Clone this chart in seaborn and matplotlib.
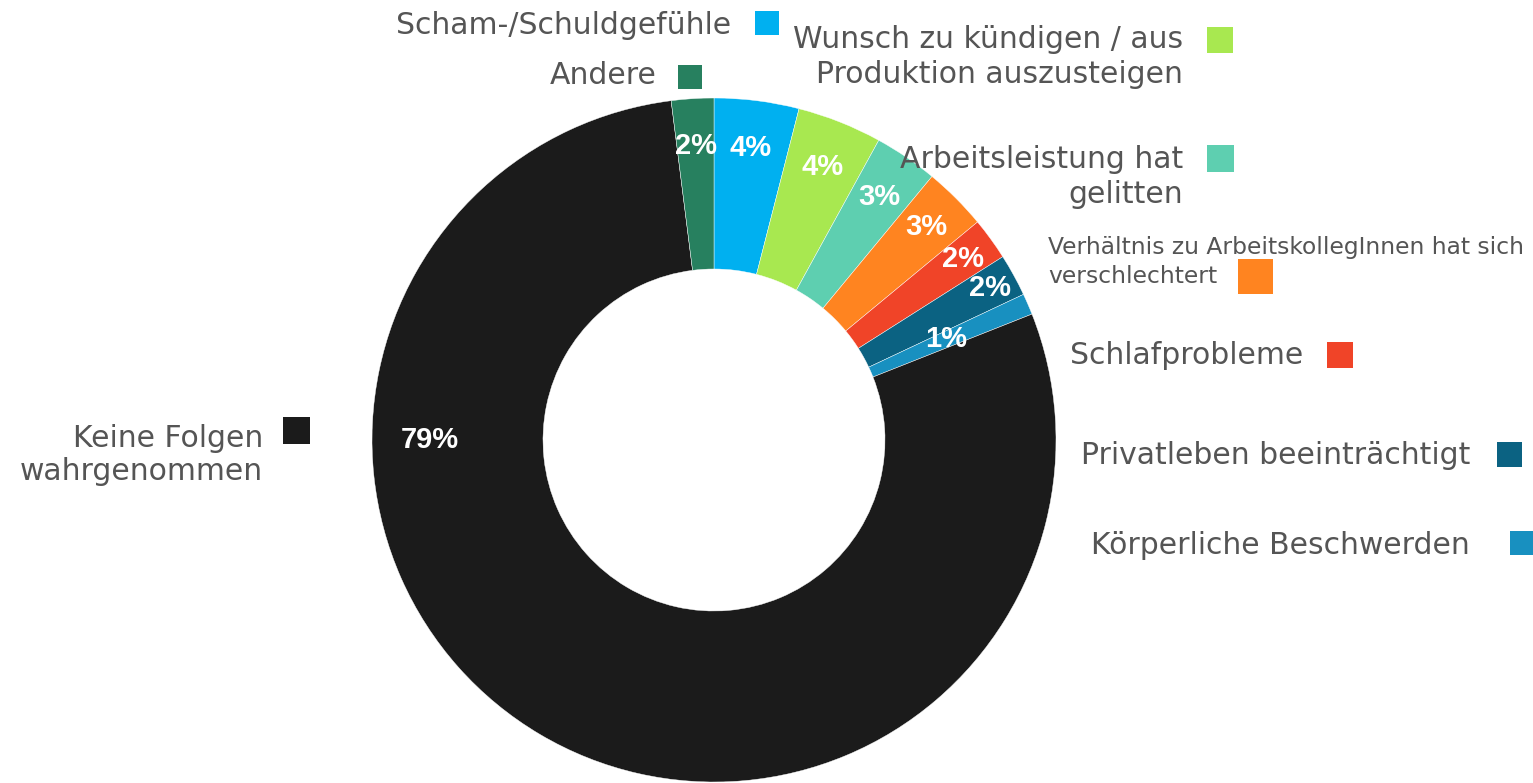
import numpy as np
import matplotlib
matplotlib.use("Agg")
import matplotlib.pyplot as plt
from matplotlib.patches import Rectangle
import seaborn as sns

# DATA (clockwise from 12 o'clock)
categories = [
    "Scham-/Schuldgefühle",
    "Wunsch zu kündigen / aus\nProduktion auszusteigen",
    "Arbeitsleistung hat\ngelitten",
    "Verhältnis zu ArbeitskollegInnen hat sich\nverschlechtert",
    "Schlafprobleme",
    "Privatleben beeinträchtigt",
    "Körperliche Beschwerden",
    "Keine Folgen\nwahrgenommen",
    "Andere",
]
shares = [4, 4, 3, 3, 2, 2, 1, 79, 2]
colors = ["#00b0f0", "#a8e850", "#5ecfb0", "#ff8420", "#f04428",
          "#0b6282", "#1890c0", "#1b1b1b", "#27805f"]

sns.set_theme(style="white")
plt.rcParams['font.family'] = ['DejaVu Sans']

W, H = 1533, 783
fig = plt.figure(figsize=(W / 100, H / 100), dpi=100)
fig.patch.set_facecolor("white")

# donut axes: centre (714, 440) px from top-left, radius 342 px
cx, cy, r = 714, 440, 342
ax = fig.add_axes([(cx - r) / W, (H - cy - r) / H, 2 * r / W, 2 * r / H])
wedges, _ = ax.pie(shares, colors=colors, startangle=90, counterclock=False,
                   radius=1, wedgeprops=dict(width=0.5, edgecolor="white", linewidth=0.3))
ax.set_xlim(-1, 1)
ax.set_ylim(-1, 1)
ax.set_aspect("equal")
ax.axis("off")

# percentage labels inside the ring
label_r = [0.86, 0.86, 0.86, 0.88, 0.90, 0.92, 0.74, 0.83, 0.86]
for w, v, rr in zip(wedges, shares, label_r):
    ang = (w.theta1 + w.theta2) / 2
    if v == max(shares):
        ang = 180
    x, y = rr * np.cos(np.radians(ang)), rr * np.sin(np.radians(ang))
    ax.text(x, y, f"{v}%", ha="center", va="center", color="white",
            fontsize=21, fontweight="bold", family="Liberation Sans")

# outside labels with colour squares (pixel layout)
# (text x, text centre y, ha, fontsize, linespacing, square x, square y, size)
layout = [
    (731, 26, "right", 21.5, 1.2, 755, 11, 24),
    (1183, 57, "right", 21.5, 1.3, 1207, 27, 26),
    (1183, 177, "right", 21.5, 1.3, 1207, 145, 27),
    (1048, 262, "left", 16.8, 1.35, 1238, 259, 35),
    (1303, 356, "right", 21.5, 1.2, 1327, 342, 26),
    (1470, 456, "right", 21.5, 1.2, 1497, 442, 25),
    (1470, 545, "right", 21.5, 1.2, 1510, 531, 24),
    (263, 455, "right", 21.5, 1.15, 283, 417, 27),
    (657, 76, "right", 21.5, 1.2, 678, 65, 24),
]
for text, c, (tx, ty, ha, fs, ls, sx, sy, s) in zip(categories, colors, layout):
    fig.text(tx / W, 1 - ty / H, text, ha=ha, va="center", fontsize=fs,
             color="#555555", linespacing=ls, multialignment=ha)
    fig.add_artist(Rectangle((sx / W, 1 - (sy + s) / H), s / W, s / H,
                             transform=fig.transFigure, color=c, lw=0))

fig.savefig("out.png", dpi=100)
